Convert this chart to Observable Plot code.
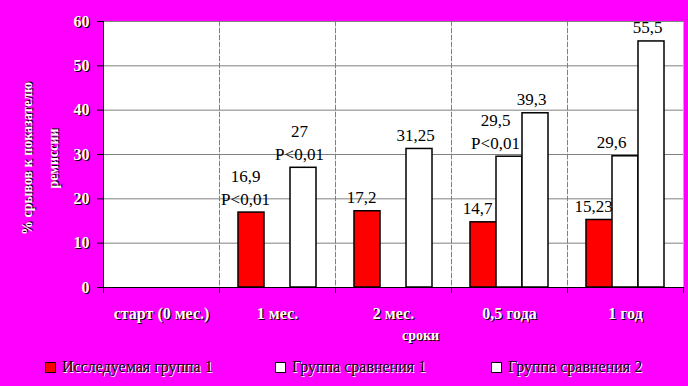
<!DOCTYPE html>
<html><head><meta charset="utf-8">
<script src="https://cdn.jsdelivr.net/npm/d3@7"></script>
<script src="https://cdn.jsdelivr.net/npm/@observablehq/plot@0.6"></script>
<style>
html,body{margin:0;padding:0;background:#ff00ff;}
#wrap{position:relative;width:688px;height:386px;background:#ff00ff;overflow:hidden;}
#chart svg{display:block;}
#chart g[fill="white"]{text-shadow:1px 1px 0 #000;}
#chart g[aria-label="y-title"] text{letter-spacing:1.5px;}
#chart g[aria-label="x-title"] text{letter-spacing:1.5px;}
#legend{position:absolute;left:0;top:357px;width:688px;height:20px;font-family:"Liberation Serif","DejaVu Serif",serif;font-size:16px;color:#000;}
.item{position:absolute;top:0;height:20px;display:flex;align-items:center;white-space:nowrap;text-shadow:1px 1px 0 #fff;}
.sw{width:9px;height:9px;border:1px solid #000;margin-right:6px;box-sizing:content-box;}
</style></head><body><div id="wrap"><div id="chart"></div><div id="legend"></div></div>
<script>
// ---- data ----
const categories = ["старт (0 мес.)", "1 мес.", "2 мес.", "0,5 года", "1 год"];
const seriesNames = ["Исследуемая группа 1", "Группа сравнения 1", "Группа сравнения 2"];
const seriesColors = ["#ff0000", "#ffffff", "#ffffff"];
const group1 = [null, 16.9, 17.2, 14.7, 15.23];
const compare1 = [null, null, null, 29.5, 29.6];
const compare2 = [null, 27, 31.25, 39.3, 55.5];
const notes1 = [null, "P<0,01", null, null, null];
const notes2 = [null, null, null, "P<0,01", null];
const notes3 = [null, "P<0,01", null, null, null];
const yTicks = [0, 10, 20, 30, 40, 50, 60];
const yTitle = ["% срывов к показателю", "ремиссии"];
const xTitle = "сроки";

// ---- table ----
const seriesValues = [group1, compare1, compare2];
const seriesNotes = [notes1, notes2, notes3];
const rows = [];
categories.forEach((c, i) => {
  seriesValues.forEach((vals, s) => {
    if (vals[i] != null) rows.push({category: c, series: seriesNames[s], value: vals[i], note: seriesNotes[s][i]});
  });
});
const fmt = v => String(v).replace(".", ",");
const label = d => d.note ? fmt(d.value) + "\n" + d.note : fmt(d.value);

const serif = "Liberation Serif, DejaVu Serif, serif";
const labelDx = [-6, -14, -4];
const first = () => categories[0];
const last = () => categories[categories.length - 1];
const mid = () => categories[2];

const marks = [
  Plot.frame({fill: "#ffffff", stroke: "none"}),
  Plot.gridY(yTicks, {stroke: "#808080", strokeOpacity: 1}),
  Plot.frame({anchor: "left", stroke: "#808080", strokeDasharray: "4,3"}),
  Plot.barY(rows, {fx: "category", x: "series", y: "value", fill: "series", stroke: "black", strokeWidth: 1.5}),
  Plot.ruleY([0], {stroke: "black"}),
  Plot.frame({anchor: "left", stroke: "black", fx: first}),
  Plot.frame({anchor: "left", stroke: "black", insetTop: 266, insetBottom: -5}),
  Plot.frame({anchor: "right", stroke: "black", insetTop: 266, insetBottom: -5, fx: last}),
  Plot.axisY(yTicks, {tickSize: 6, tickPadding: 8, stroke: "black", fill: "white", fontWeight: "bold", fontSize: 16, fontFamily: serif, label: null}),
  Plot.axisFx({anchor: "bottom", tickSize: 0, tickPadding: 20, fill: "white", fontWeight: "bold", fontSize: 16, fontFamily: serif, label: null}),
  // y title
  Plot.text([yTitle[0]], {ariaLabel: "y-title", fx: first, frameAnchor: "left", textAnchor: "middle", rotate: -90, dx: -76, dy: 4, fill: "white", fontWeight: "bold", fontSize: 14, fontFamily: serif}),
  Plot.text([yTitle[1]], {ariaLabel: "y-title", fx: first, frameAnchor: "left", textAnchor: "middle", rotate: -90, dx: -50, dy: 4, fill: "white", fontWeight: "bold", fontSize: 14, fontFamily: serif}),
  // x title
  Plot.text([xTitle], {ariaLabel: "x-title", fx: mid, frameAnchor: "bottom", dx: 27, dy: 52, fill: "white", fontWeight: "bold", fontSize: 14, fontFamily: serif})
];
seriesNames.forEach((s, k) => {
  marks.push(Plot.text(rows.filter(d => d.series === s), {
    fx: "category", x: "series", y: "value", text: label,
    lineAnchor: "bottom", dy: -8, dx: labelDx[k], fontSize: 17, lineHeight: 1.35, fontFamily: serif, fill: "black"
  }));
});

const chart = Plot.plot({
  width: 688, height: 350,
  marginTop: 21, marginBottom: 63, marginLeft: 103, marginRight: 5,
  style: {background: "transparent", fontFamily: serif, overflow: "visible"},
  fx: {domain: categories, padding: 0, label: null},
  x: {domain: seriesNames, paddingInner: 0, paddingOuter: 0.73, axis: null},
  y: {domain: [0, 60], label: null},
  color: {domain: seriesNames, range: seriesColors},
  marks
});
document.getElementById("chart").appendChild(chart);

// ---- legend ----
const legendLeft = [45, 275, 491];
const legend = document.getElementById("legend");
seriesNames.forEach((s, k) => {
  const it = document.createElement("div");
  it.className = "item";
  it.style.left = legendLeft[k] + "px";
  const sw = document.createElement("span");
  sw.className = "sw";
  sw.style.background = seriesColors[k];
  const tx = document.createElement("span");
  tx.textContent = s;
  it.appendChild(sw); it.appendChild(tx);
  legend.appendChild(it);
});
</script></body></html>
